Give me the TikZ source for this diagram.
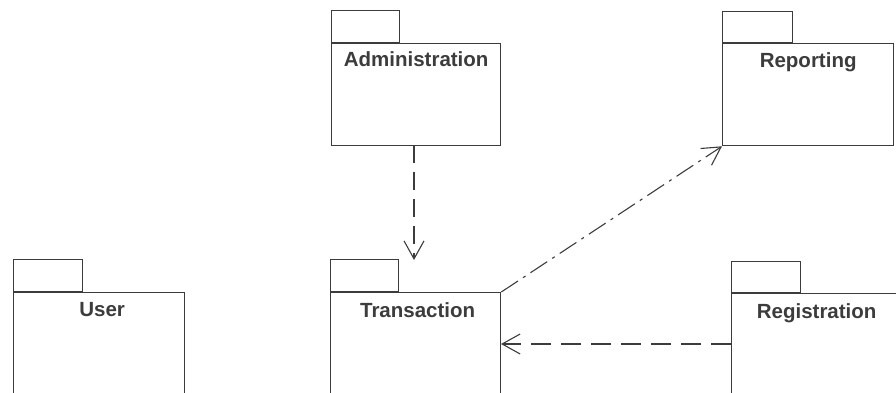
\documentclass[tikz,border=0pt]{standalone}
\usepackage{fontspec}
\setmainfont{Liberation Sans}
\usetikzlibrary{arrows.meta}
\definecolor{ink}{HTML}{3C3C3C}
\tikzset{
  x=1pt, y=-1pt,
  pkgbody/.style={draw=ink, line width=1.3pt, anchor=north west, inner sep=0pt, minimum width=#1},
  pkgbody/.default=170pt,
  pkgtab/.style={draw=ink, line width=1.3pt, anchor=south west, inner sep=0pt, minimum width=68pt, minimum height=32pt},
  pkglabel/.style={anchor=base, inner sep=0pt, text=ink, font=\fontsize{20.5}{24}\selectfont\bfseries},
  dep/.style={draw=ink, line width=1.1pt, -{Straight Barb[length=18pt,width=20pt,line width=1.1pt]}},
  depdash/.style={dep, dash pattern=on 18pt off 9pt},
  depdot/.style={dep, dash pattern=on 20pt off 6pt on 3pt off 6pt}
}
\begin{document}
\begin{tikzpicture}
\clip (0,0) rectangle (896,393);
\fill[white] (0,0) rectangle (896,393);
% Administration
\node[pkgbody=169pt, minimum height=102pt] (adm) at (331,43) {};
\node[pkgtab] (admtab) at (adm.north west) {};
\node[pkglabel] (admL) at ([yshift=-24pt]adm.north) {Administration};
% Reporting
\node[pkgbody=171pt, minimum height=102pt] (rep) at (722,43) {};
\node[pkgtab, minimum width=70pt, minimum height=31pt] (reptab) at (rep.north west) {};
\node[pkglabel] (repL) at ([yshift=-25pt]rep.north) {Reporting};
% User
\node[pkgbody=171pt, minimum height=120pt] (usr) at (13,292) {};
\node[pkgtab, minimum width=69pt] (usrtab) at (usr.north west) {};
\node[pkglabel] (usrL) at ([xshift=3pt,yshift=-24pt]usr.north) {User};
% Transaction
\node[pkgbody=170pt, minimum height=120pt] (trn) at (330,292) {};
\node[pkgtab] (trntab) at (trn.north west) {};
\node[pkglabel] (trnL) at ([xshift=2pt,yshift=-25pt]trn.north) {Transaction};
% Registration
\node[pkgbody=170pt, minimum height=120pt] (reg) at (731,293) {};
\node[pkgtab, minimum width=69pt, minimum height=31pt] (regtab) at (reg.north west) {};
\node[pkglabel] (regL) at ([xshift=0pt,yshift=-25pt]reg.north) {Registration};
% dependencies
\coordinate (admS) at (414,145);
\coordinate (trnT) at (414,260);
\draw[depdash] (admS) -- (trnT);
\draw[depdot] (trn.north east) -- (rep.south west);
\coordinate (regW) at (731,344);
\coordinate (trnE) at (501,344);
\draw[depdash, dash pattern=on 20pt off 10pt] (regW) -- (trnE);
\end{tikzpicture}
\end{document}
